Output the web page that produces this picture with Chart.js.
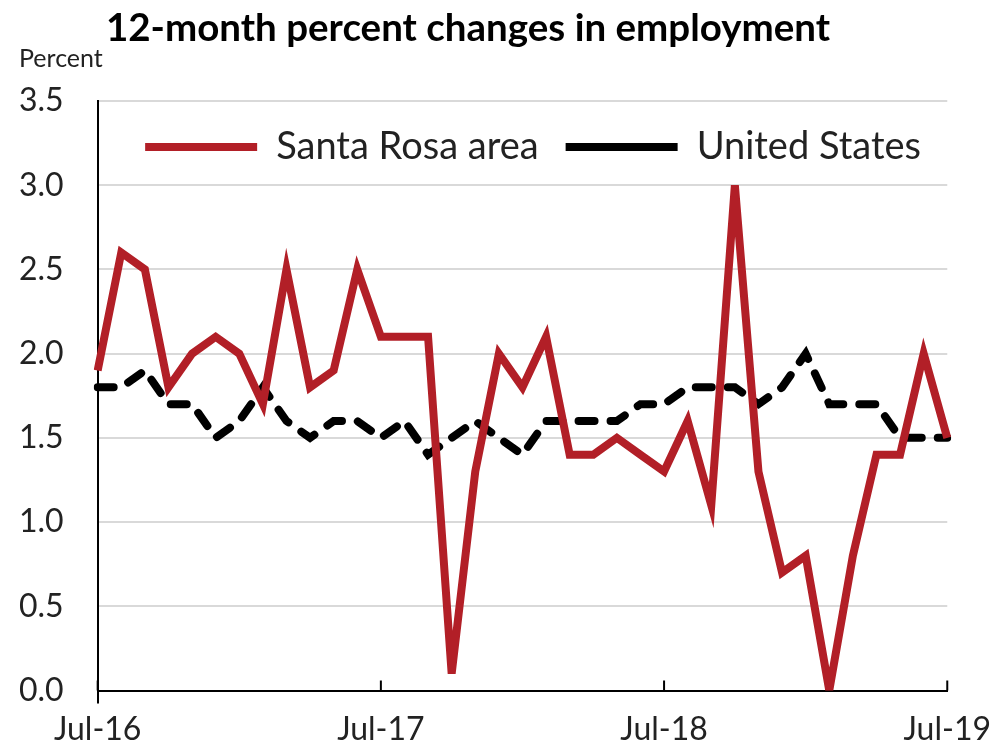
<!DOCTYPE html>
<html>
<head>
<meta charset="utf-8">
<script src="https://cdn.jsdelivr.net/npm/chart.js@4.4.1/dist/chart.umd.min.js"></script>
<style>
  html, body { margin: 0; padding: 0; background: #fff; }
  #wrap { width: 993px; height: 742px; position: relative; }
  #title {
    position: absolute; left: 0; top: 3px; width: 936px;
    text-align: center; font: bold 38.5px Lato, sans-serif; line-height: 46px;
    color: #000; z-index: 2;
  }
</style>
</head>
<body>
<div id="wrap">
  <div id="title">12-month percent changes in employment</div>
  <canvas id="employmentChart"></canvas>
</div>
<script>
const months = [
    'Jul-16', 'Aug-16', 'Sep-16', 'Oct-16', 'Nov-16', 'Dec-16',
    'Jan-17', 'Feb-17', 'Mar-17', 'Apr-17', 'May-17', 'Jun-17',
    'Jul-17', 'Aug-17', 'Sep-17', 'Oct-17', 'Nov-17', 'Dec-17',
    'Jan-18', 'Feb-18', 'Mar-18', 'Apr-18', 'May-18', 'Jun-18',
    'Jul-18', 'Aug-18', 'Sep-18', 'Oct-18', 'Nov-18', 'Dec-18',
    'Jan-19', 'Feb-19', 'Mar-19', 'Apr-19', 'May-19', 'Jun-19',
    'Jul-19'
]

const santaRosa = [1.9, 2.6, 2.5, 1.8, 2.0, 2.1, 2.0, 1.7, 2.5, 1.8, 1.9, 2.5,
    2.1, 2.1, 2.1, 0.1, 1.3, 2.0, 1.8, 2.1, 1.4, 1.4, 1.5, 1.4,
    1.3, 1.6, 1.1, 3.0, 1.3, 0.7, 0.8, 0.0, 0.8, 1.4, 1.4, 2.0, 1.5]

const unitedStates = [1.8, 1.8, 1.9, 1.7, 1.7, 1.5, 1.6, 1.8, 1.6, 1.5, 1.6, 1.6,
    1.5, 1.6, 1.4, 1.5, 1.6, 1.5, 1.4, 1.6, 1.6, 1.6, 1.6, 1.7,
    1.7, 1.8, 1.8, 1.8, 1.7, 1.8, 2.0, 1.7, 1.7, 1.7, 1.5, 1.5, 1.5]

const yTicks = [0, 0.5, 1.0, 1.5, 2.0, 2.5, 3.0, 3.5]

Chart.defaults.font.family = 'Lato'
Chart.defaults.color = '#222'

const isYearTick = i => i % 12 === 0

// legend sits inside the plot, over the top band, without taking layout space
const overlayLegend = {
    id: 'overlayLegend',
    beforeLayout(chart) {
        const legend = chart.legend
        if (legend && !legend._overlay) {
            const fit = legend.fit
            legend.fit = function () {
                fit.call(this)
                this._realHeight = this.height
                this.height = 0
            }
            legend._overlay = true
        }
    },
    afterLayout(chart) {
        const legend = chart.legend
        if (legend && legend._realHeight) {
            legend.height = legend._realHeight
            legend.bottom = legend.top + legend._realHeight
        }
    }
}

// year tick marks cross the x axis
const crossTicks = {
    id: 'crossTicks',
    afterDraw(chart) {
        const { ctx, scales: { x }, chartArea } = chart
        ctx.save()
        ctx.strokeStyle = '#000'
        ctx.lineWidth = 2
        months.forEach((m, i) => {
            if (!isYearTick(i)) return
            const px = x.getPixelForValue(i)
            ctx.beginPath()
            ctx.moveTo(px, chartArea.bottom - 10)
            ctx.lineTo(px, chartArea.bottom)
            ctx.stroke()
        })
        ctx.restore()
    }
}

const data = {
    labels: months,
    datasets: [{
        label: 'Santa Rosa area',
        data: santaRosa,
        borderColor: '#b21f27',
        backgroundColor: '#b21f27',
        borderWidth: 8,
        pointRadius: 0,
        tension: 0
    }, {
        label: 'United States',
        data: unitedStates,
        borderColor: '#000',
        backgroundColor: '#000',
        borderWidth: 8,
        borderDash: [16, 16],
        borderCapStyle: 'round',
        pointRadius: 0,
        tension: 0
    }]
}

const options = {
    responsive: true,
    maintainAspectRatio: false,
    animation: false,
    layout: {
        padding: { left: 19, right: 45, top: 46, bottom: -13.5 }
    },
    plugins: {
        title: { display: false },
        subtitle: {
            display: true,
            text: 'Percent',
            align: 'start',
            color: '#222',
            font: { size: 25, lineHeight: 1 },
            padding: { top: 0, bottom: 30 }
        },
        legend: {
            position: 'top',
            align: 'end',
            labels: {
                usePointStyle: true,
                pointStyle: 'line',
                pointStyleWidth: 112,
                color: '#222',
                font: { size: 38 },
                padding: 27
            }
        },
        tooltip: { enabled: false }
    },
    scales: {
        x: {
            grid: {
                drawOnChartArea: true,
                color: ctx => ctx.index === months.length - 1 ? '#d9d9d9' : 'rgba(0,0,0,0)',
                lineWidth: 2,
                tickLength: 13,
                tickColor: ctx => isYearTick(ctx.index) ? '#000' : 'rgba(0,0,0,0)',
                tickWidth: 2
            },
            border: { color: '#000', width: 2 },
            ticks: {
                autoSkip: false,
                maxRotation: 0,
                minRotation: 0,
                padding: 2,
                font: { size: 32, lineHeight: 1.5 },
                callback: (value, index) => isYearTick(index) ? months[index] : null
            }
        },
        y: {
            min: yTicks[0],
            max: yTicks[yTicks.length - 1],
            grid: {
                color: '#d9d9d9',
                lineWidth: 2,
                drawTicks: false
            },
            border: { color: '#000', width: 2 },
            afterBuildTicks: axis => {
                axis.ticks = yTicks.map(v => ({ value: v }))
            },
            ticks: {
                padding: 17,
                crossAlign: 'far',
                font: { size: 32 },
                callback: value => value.toFixed(1)
            }
        }
    }
}

new Chart('employmentChart', { type: 'line', data, options, plugins: [overlayLegend, crossTicks] })
</script>
</body>
</html>
